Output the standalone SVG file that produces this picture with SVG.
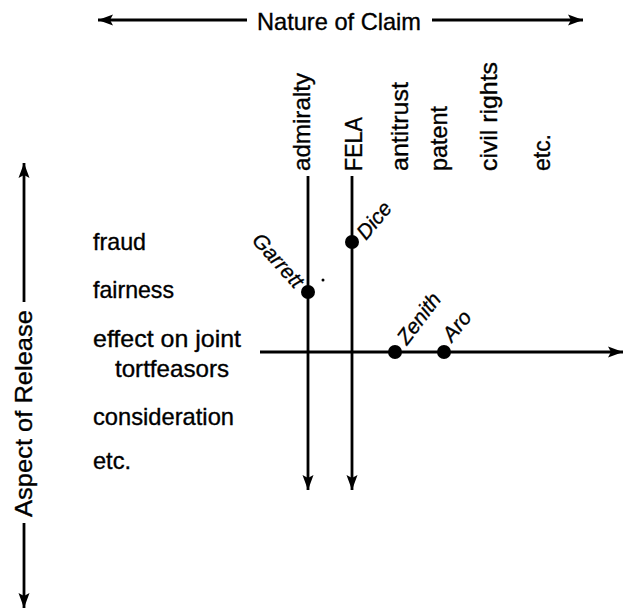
<svg xmlns="http://www.w3.org/2000/svg" width="624" height="612" viewBox="0 0 624 612">
<style>
.t{font-family:"Liberation Sans",Arial,sans-serif;font-size:24px;fill:#000;stroke:#000;stroke-width:0.35}
.c{font-family:"Liberation Sans",Arial,sans-serif;font-size:21px;font-style:italic;fill:#000;stroke:#000;stroke-width:0.3}
.ax{stroke:#000;stroke-width:2.8;fill:none;marker-end:url(#ah)}
.dot{fill:#000}
</style>
<defs>
<marker id="ah" markerUnits="userSpaceOnUse" markerWidth="16" markerHeight="12" refX="15" refY="6" orient="auto">
<path d="M0,0.5 L15,6 L0,11.5 L3,6 z" fill="#000"/>
</marker>
</defs>
<rect width="624" height="612" fill="#fff"/>
<g id="connectors">
<line class="ax" x1="247" y1="20" x2="98" y2="20"/>
<line class="ax" x1="432" y1="20" x2="583" y2="20"/>
<line class="ax" x1="24" y1="302" x2="24" y2="163"/>
<line class="ax" x1="24" y1="523" x2="24" y2="608"/>
<line class="ax" x1="308" y1="176" x2="308" y2="490"/>
<line class="ax" x1="352" y1="176" x2="352" y2="490"/>
<line class="ax" x1="260" y1="352" x2="623" y2="352"/>
</g>
<g id="axis-labels">
<text class="t" x="257" y="30" textLength="164" lengthAdjust="spacingAndGlyphs">Nature of Claim</text>
<text class="t" transform="translate(32,517) rotate(-90)" textLength="207" lengthAdjust="spacingAndGlyphs">Aspect of Release</text>
</g>
<g id="claims">
<text class="t" transform="translate(310,171) rotate(-90)" textLength="98" lengthAdjust="spacingAndGlyphs">admiralty</text>
<text class="t" transform="translate(362,171) rotate(-90)" textLength="54" lengthAdjust="spacingAndGlyphs">FELA</text>
<text class="t" transform="translate(408,171) rotate(-90)" textLength="89" lengthAdjust="spacingAndGlyphs">antitrust</text>
<text class="t" transform="translate(447,171) rotate(-90)" textLength="65" lengthAdjust="spacingAndGlyphs">patent</text>
<text class="t" transform="translate(497,171) rotate(-90)" textLength="109" lengthAdjust="spacingAndGlyphs">civil rights</text>
<text class="t" transform="translate(550,171) rotate(-90)" textLength="37" lengthAdjust="spacingAndGlyphs">etc.</text>
</g>
<g id="aspects">
<text class="t" x="93" y="250" textLength="53" lengthAdjust="spacingAndGlyphs">fraud</text>
<text class="t" x="93" y="298" textLength="81" lengthAdjust="spacingAndGlyphs">fairness</text>
<text class="t" x="93" y="347" textLength="148" lengthAdjust="spacingAndGlyphs">effect on joint</text>
<text class="t" x="115" y="377" textLength="114" lengthAdjust="spacingAndGlyphs">tortfeasors</text>
<text class="t" x="93" y="425" textLength="141" lengthAdjust="spacingAndGlyphs">consideration</text>
<text class="t" x="93" y="469" textLength="38" lengthAdjust="spacingAndGlyphs">etc.</text>
</g>
<g id="garrett">
<circle class="dot" cx="308" cy="292" r="7"/>
<text class="c" transform="translate(251,241) rotate(48)">Garrett</text>
<circle class="dot" cx="323" cy="280" r="1.5"/>
</g>
<g id="dice">
<circle class="dot" cx="352" cy="242" r="7"/>
<text class="c" transform="translate(366,241) rotate(-50)">Dice</text>
</g>
<g id="zenith">
<circle class="dot" cx="395" cy="352" r="7"/>
<text class="c" transform="translate(407,346) rotate(-53)">Zenith</text>
</g>
<g id="aro">
<circle class="dot" cx="444" cy="352" r="7"/>
<text class="c" transform="translate(452,343) rotate(-51)">Aro</text>
</g>
</svg>
